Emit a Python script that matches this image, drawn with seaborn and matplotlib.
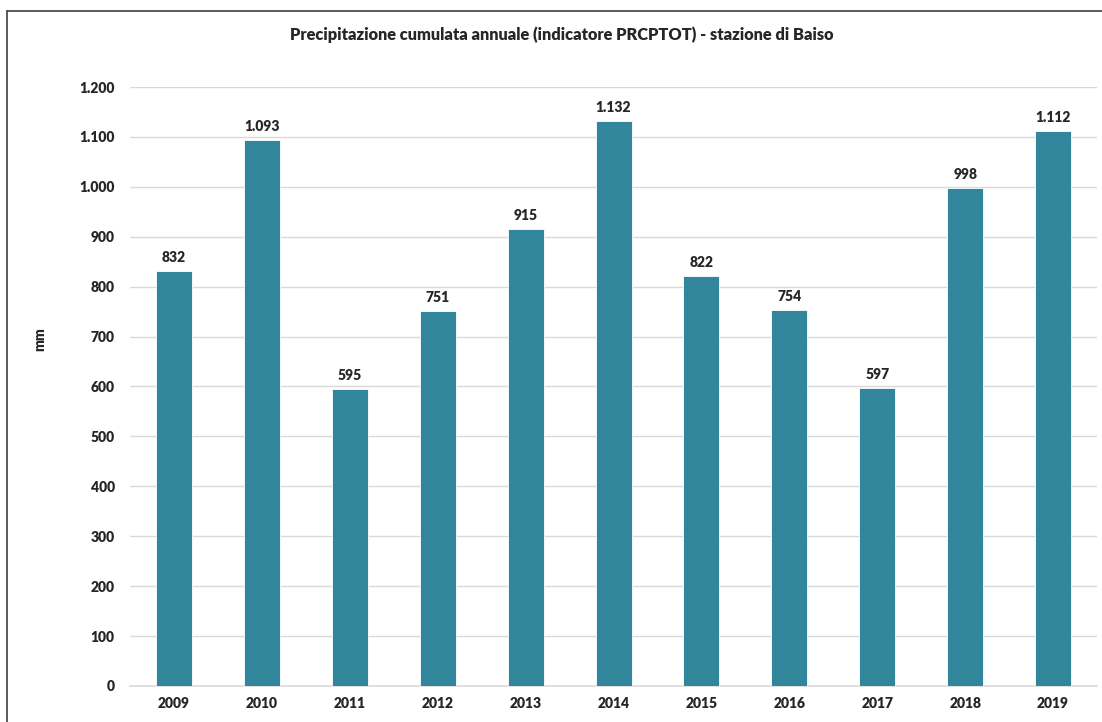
import seaborn as sns
import matplotlib.pyplot as plt
import pandas as pd
from matplotlib.lines import Line2D

years = ['2009', '2010', '2011', '2012', '2013', '2014', '2015', '2016', '2017', '2018', '2019']
prcptot = [832, 1093, 595, 751, 915, 1132, 822, 754, 597, 998, 1112]
yticks = [0, 100, 200, 300, 400, 500, 600, 700, 800, 900, 1000, 1100, 1200]

def it_fmt(v):
    return f"{int(v):,}".replace(",", ".")

sns.set_style("white")
plt.rcParams['font.family'] = ['Lato', 'DejaVu Sans']
W = 'heavy'

df = pd.DataFrame({'anno': years, 'mm': prcptot})

fig = plt.figure(figsize=(11.02, 7.22), dpi=100)
ax = fig.add_axes([0.118, 0.0499, 0.8775, 0.8296])

sns.barplot(data=df, x='anno', y='mm', color='#31869B', saturation=1, width=0.41,
            edgecolor='white', linewidth=0.6, ax=ax, zorder=3)

ax.set_ylim(0, 1200)
ax.set_yticks(yticks)
ax.set_yticklabels([it_fmt(v) for v in yticks], fontsize=10, fontweight=W)
ax.set_xticks(range(len(years)))
ax.set_xticklabels(years, fontsize=10, fontweight=W)
ax.tick_params(axis='both', length=0, pad=8)
ax.tick_params(axis='y', pad=11)
ax.yaxis.grid(True, color='#d9d9d9', linewidth=1, zorder=0)
ax.set_axisbelow(True)
for s in ['top', 'right', 'left']:
    ax.spines[s].set_visible(False)
ax.spines['bottom'].set_color('#d9d9d9')
ax.spines['bottom'].set_linewidth(1.2)
ax.set_xlabel('')
ax.set_ylabel('')

for i, v in enumerate(prcptot):
    ax.annotate(it_fmt(v), (i, v), xytext=(0, 5), textcoords='offset points',
                ha='center', va='bottom', fontsize=10, fontweight=W)

fig.text(0.51, 0.9515, 'Precipitazione cumulata annuale (indicatore PRCPTOT) - stazione di Baiso',
         ha='center', va='center', fontsize=11.8, fontweight=W)
fig.text(0.036, 0.53, 'mm', ha='center', va='center', rotation=90, fontsize=10, fontweight=W)

# chart frame (left and top edges visible)
fig.add_artist(Line2D([0.0065, 0.0065], [0, 0.985], transform=fig.transFigure, color='#404040', linewidth=1.2))
fig.add_artist(Line2D([0.0065, 1.0], [0.985, 0.985], transform=fig.transFigure, color='#404040', linewidth=1.2))

fig.savefig('out.png', dpi=100)
